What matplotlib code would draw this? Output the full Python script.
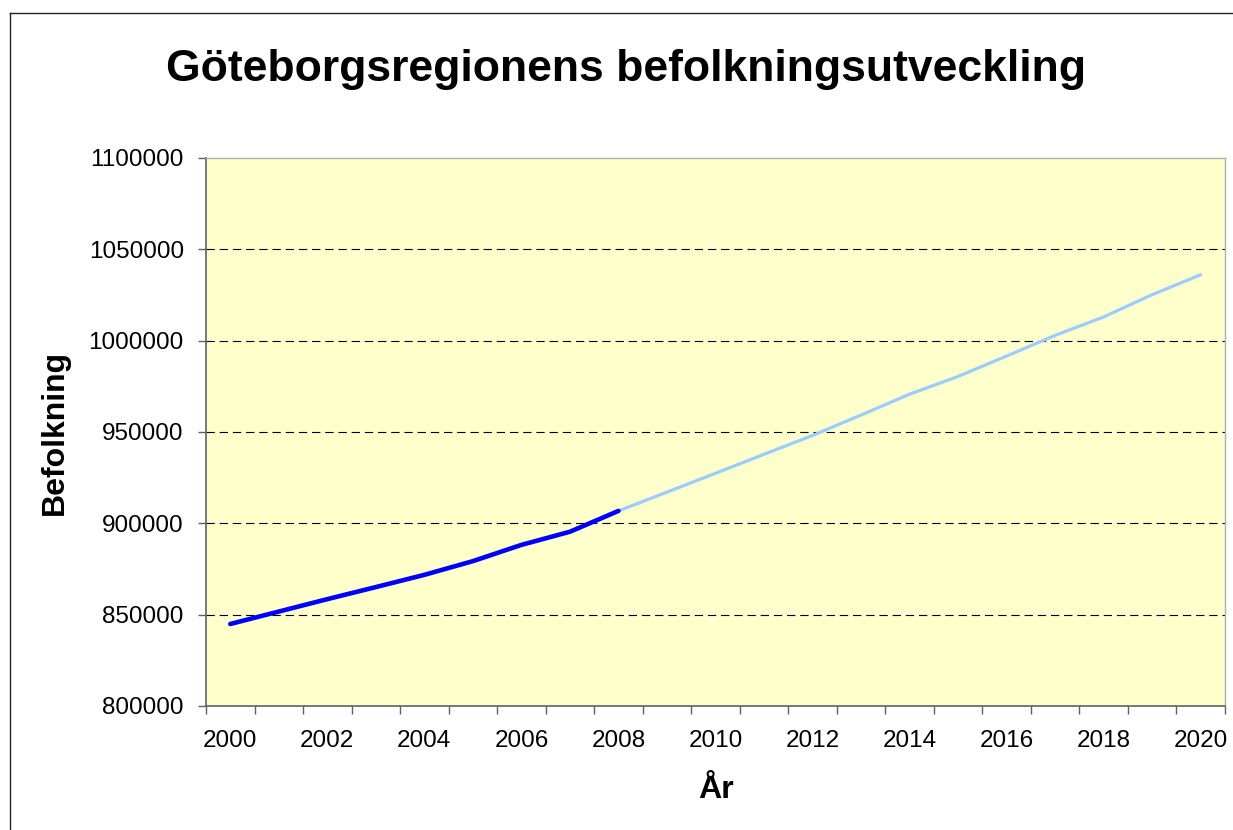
import matplotlib
matplotlib.use("Agg")
import matplotlib.pyplot as plt
from matplotlib.lines import Line2D
import numpy as np

# --- data ---
years_hist = [2000, 2001, 2002, 2003, 2004, 2005, 2006, 2007, 2008]
pop_hist = [844900, 851700, 858500, 865100, 871800, 879300, 888200, 895400, 906800]

years_prog = [2008, 2009, 2010, 2011, 2012, 2013, 2014, 2015, 2016, 2017, 2018, 2019, 2020]
pop_prog = [906800, 917100, 927400, 937800, 948100, 959300, 970700, 980400, 991600,
            1002900, 1013000, 1025200, 1036100]

label_years = list(range(2000, 2021, 2))
y_ticks = [800000, 850000, 900000, 950000, 1000000, 1050000, 1100000]

title = "Göteborgsregionens befolkningsutveckling"
xlabel = "År"
ylabel = "Befolkning"

plt.rcParams['font.family'] = ['Liberation Sans', 'DejaVu Sans']
plt.rcParams['lines.scale_dashes'] = False

W, H = 1233, 830
fig = plt.figure(figsize=(W / 100, H / 100), dpi=100)
fig.patch.set_facecolor('white')

# figure frame (left and top edges visible)
fig.add_artist(Line2D([10 / W, 10 / W], [0, 1 - 13 / H], transform=fig.transFigure,
                      color='#202020', lw=1.0))
fig.add_artist(Line2D([10 / W, 1], [1 - 13 / H, 1 - 13 / H], transform=fig.transFigure,
                      color='#202020', lw=1.0))

ax_l, ax_r, ax_t, ax_b = 206, 1225, 158, 706
ax = fig.add_axes([ax_l / W, 1 - ax_b / H, (ax_r - ax_l) / W, (ax_b - ax_t) / H])
ax.set_facecolor('#FFFFCC')

ax.set_xlim(1999.5, 2020.5)
ax.set_ylim(800000, 1100000)

# gridlines
for v in y_ticks[1:-1]:
    ax.axhline(v, color='#000000', lw=0.8, dashes=(6, 3.5), zorder=1)

ax.plot(years_prog, pop_prog, color='#99CCFF', lw=2.3, solid_capstyle='round',
        solid_joinstyle='round', zorder=3)
ax.plot(years_hist, pop_hist, color='#0000FF', lw=3.3, solid_capstyle='round',
        solid_joinstyle='round', zorder=4)

# spines
for s in ['top', 'right']:
    ax.spines[s].set_color('#B0B0B0')
    ax.spines[s].set_linewidth(1.0)
for s in ['left', 'bottom']:
    ax.spines[s].set_color('#606060')
    ax.spines[s].set_linewidth(1.2)

# y axis
ax.set_yticks(y_ticks)
ax.set_yticklabels([str(v) for v in y_ticks])
ax.tick_params(axis='y', which='major', length=6, width=1.0, color='#606060',
               labelsize=17.5, pad=10)

# x axis: ticks at category boundaries, labels centred on every other year
ax.set_xticks(np.arange(1999.5, 2021.0, 1.0))
ax.set_xticklabels([])
ax.tick_params(axis='x', which='major', length=5.5, width=1.0, color='#606060')
ax.set_xticks(label_years, minor=True)
ax.set_xticklabels([str(y) for y in label_years], minor=True)
ax.tick_params(axis='x', which='minor', length=0, labelsize=17.5, pad=17)

axw, axh = ax_r - ax_l, ax_b - ax_t
ax.set_xlabel(xlabel, fontsize=23, fontweight='bold', va='center')
ax.xaxis.set_label_coords((716 - ax_l) / axw, -(790 - ax_b) / axh)
ax.set_ylabel(ylabel, fontsize=23, fontweight='bold', va='center')
ax.yaxis.set_label_coords(-(ax_l - 55) / axw, 0.5)

fig.text(626 / W, 1 - 70 / H, title, fontsize=32, fontweight='bold',
         ha='center', va='center')

fig.savefig('out.png', dpi=100, facecolor='white')
